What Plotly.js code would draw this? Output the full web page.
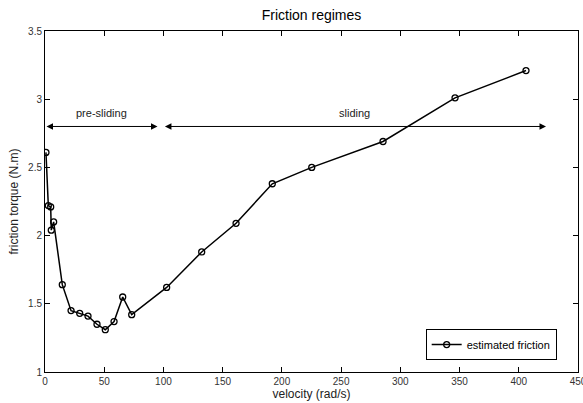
<!DOCTYPE html>
<html>
<head>
<meta charset="utf-8">
<script src="https://cdn.plot.ly/plotly-3.0.1.min.js"></script>
<style>html,body{margin:0;padding:0;background:#fff;}#chart{width:583px;height:403px;}</style>
</head>
<body>
<div id="chart"></div>
<script>
const velocity = [0.8, 2.8, 4.8, 5.3, 7.3, 14.6, 22.0, 29.3, 36.3, 43.9, 50.9, 58.3, 65.6, 73.2, 102.7, 132.3, 161.3, 191.9, 225.2, 285.4, 346.2, 406.1];
const torque   = [2.61, 2.22, 2.21, 2.04, 2.10, 1.64, 1.45, 1.43, 1.41, 1.35, 1.31, 1.37, 1.55, 1.42, 1.62, 1.88, 2.09, 2.38, 2.50, 2.69, 3.01, 3.21];
const regimeLabels = ["pre-sliding", "sliding"];
const regimeStart = [0, 100];
const regimeEnd = [95, 423];
const regimeArrowY = 2.80;
const regimeTextY = 2.90;
const xTicks = [0, 50, 100, 150, 200, 250, 300, 350, 400, 450];
const yTicks = [1, 1.5, 2, 2.5, 3, 3.5];

const font = {family: "Liberation Sans, Arial, sans-serif", size: 10, color: "#000"};

const trace = {
  x: velocity, y: torque, type: "scatter", mode: "lines+markers",
  name: "estimated friction",
  line: {color: "#000", width: 1.5},
  marker: {symbol: "circle-open", size: 6, color: "#000", line: {width: 1.3}}
};

const annotations = [];
for (let i = 0; i < regimeLabels.length; i++) {
  annotations.push({
    x: regimeEnd[i], y: regimeArrowY, ax: regimeStart[i], ay: regimeArrowY,
    xref: "x", yref: "y", axref: "x", ayref: "y",
    text: "", showarrow: true, arrowside: "end+start",
    arrowhead: 2, startarrowhead: 2, arrowsize: 1.3, startarrowsize: 1.3, arrowwidth: 1, arrowcolor: "#000"
  });
  annotations.push({
    x: (regimeStart[i] + regimeEnd[i]) / 2, y: regimeTextY, xref: "x", yref: "y",
    text: regimeLabels[i], showarrow: false, font: {family: font.family, size: 11, color: "#222"}
  });
}

const axisCommon = {
  showgrid: false, zeroline: false, showline: true, linecolor: "#000", linewidth: 1,
  mirror: "allticks", ticks: "inside", ticklen: 5, tickcolor: "#000",
  tickfont: {family: font.family, size: 10, color: "#333"}, ticklabeloverflow: "allow"
};

const layout = {
  width: 583, height: 403,
  margin: {l: 45, r: 5, t: 31, b: 31},
  paper_bgcolor: "#fff", plot_bgcolor: "#fff",
  title: {text: "Friction regimes", font: {family: font.family, size: 14, color: "#000"}, xref: "paper", x: 0.5, xanchor: "center", y: 0.962, yanchor: "middle"},
  xaxis: Object.assign({}, axisCommon, {range: [0, 450], tickvals: xTicks, ticktext: xTicks.map(String),
    title: {text: "velocity (rad/s)", font: {family: font.family, size: 12, color: "#222"}, standoff: 1}}),
  yaxis: Object.assign({}, axisCommon, {range: [1, 3.5], tickvals: yTicks, ticktext: yTicks.map(String),
    title: {text: "friction torque (N.m)", font: {family: font.family, size: 12, color: "#222"}, standoff: 6}}),
  showlegend: true,
  legend: {x: 0.96, y: 0.035, xanchor: "right", yanchor: "bottom", bgcolor: "#fff", bordercolor: "#000", borderwidth: 1,
    font: {family: font.family, size: 11, color: "#000"}, itemwidth: 30, tracegroupgap: 0},
  annotations: annotations
};

Plotly.newPlot("chart", [trace], layout, {staticPlot: true, displayModeBar: false});
</script>
</body>
</html>
